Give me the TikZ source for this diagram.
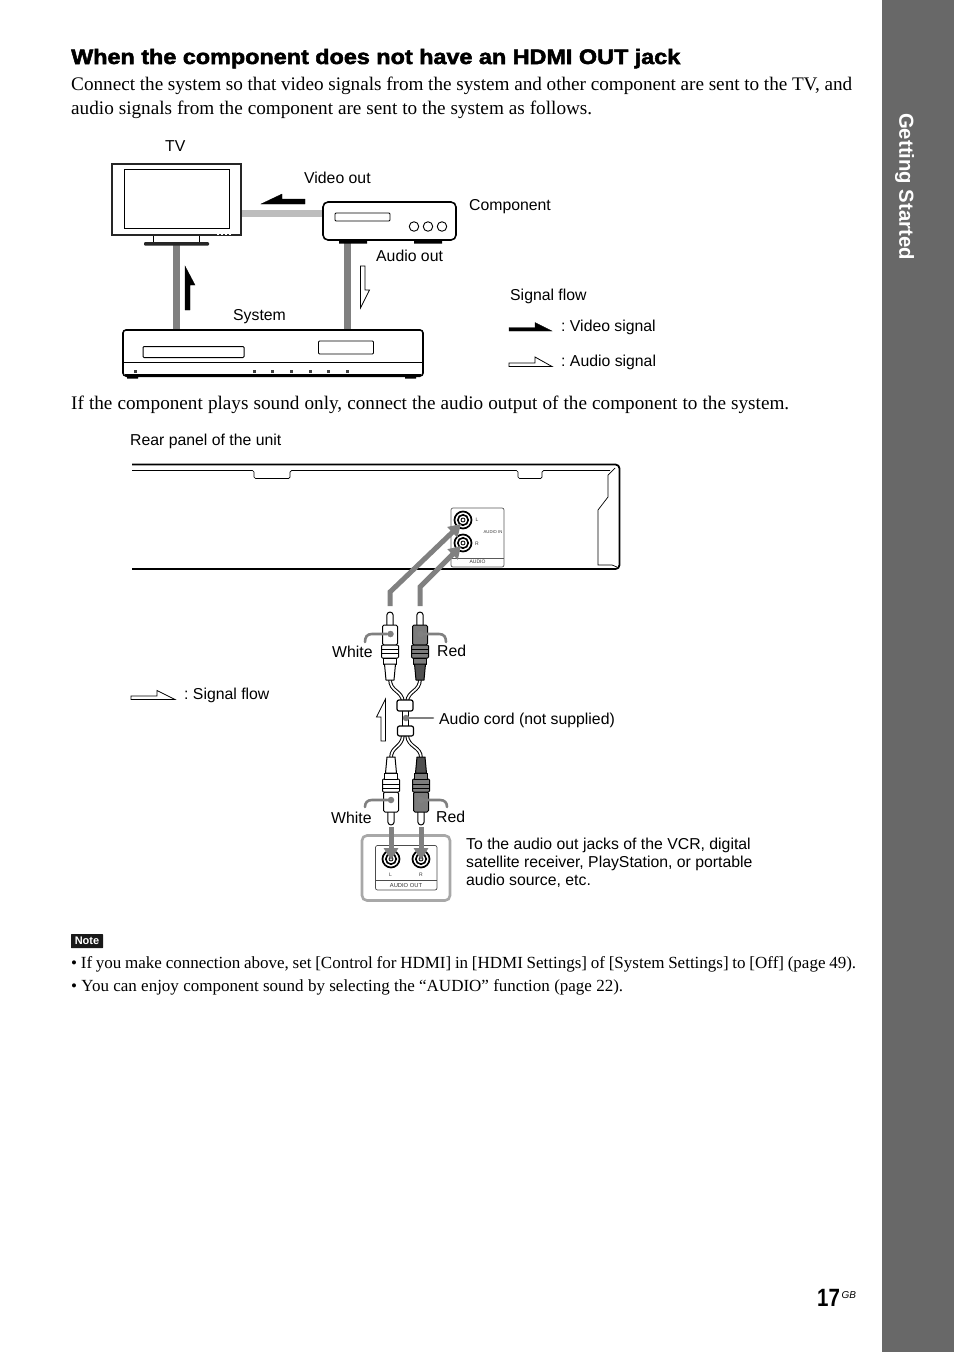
\documentclass[tikz,border=0pt]{standalone}
\usepackage{fontspec}
\usetikzlibrary{arrows.meta}
\setmainfont{Liberation Serif}
\setsansfont{Liberation Sans}
\frenchspacing
\definecolor{sidebar}{HTML}{686868}
\definecolor{cablegray}{HTML}{808080}
\definecolor{videogray}{HTML}{BDBDBD}
\definecolor{boxgray}{HTML}{A8A8A8}
\definecolor{redplug}{HTML}{7C7C7C}
\definecolor{redcore}{HTML}{505050}
\tikzset{
  sanslbl/.style={font=\fontsize{15.8}{18}\selectfont\sffamily,anchor=base west,inner sep=0pt,text=black},
  bodylbl/.style={font=\fontsize{19.2}{24}\selectfont,anchor=base west,inner sep=0pt,text=black},
  notelbl/.style={font=\fontsize{17}{24}\selectfont,anchor=base west,inner sep=0pt,text=black},
  tinylbl/.style={font=\fontsize{5}{5}\selectfont\sffamily,inner sep=0pt,text=black!80},
  device/.style={draw=black,line width=1.6pt,fill=white,inner sep=0pt,rounded corners=3pt},
  thinbox/.style={draw=black,line width=0.8pt,fill=white,inner sep=0pt,rounded corners=1pt},
  cablewire/.style={cablegray,line width=7pt},
  signalarrow/.style={cablegray,line width=5pt,-{Triangle[length=12pt,width=14pt]}},
  leader/.style={cablegray,line width=2.6pt,line cap=round},
  leaderdot/.style={circle,fill=cablegray,inner sep=0pt,minimum size=6.5pt},
  cordwire/.style={draw=black,double=white,line width=1pt,double distance=1.7pt},
  flowfilled/.style={fill=black,draw=black,line width=0.3pt},
  flowhollow/.style={fill=white,draw=black,line width=0.8pt,line join=miter},
  plugline/.style={draw=black,line width=1pt,line join=round},
}
\newcommand{\rcaplug}[5]{%
  \begin{scope}[shift={(#1,#2)},yscale=#3]
    \draw[plugline,fill=white] (-3.2,14) -- (-3.2,3.2) arc[start angle=180,end angle=360,radius=3.2] -- (3.2,14);
    \draw[plugline,fill=#4,rounded corners=1.5pt] (-7.5,13) rectangle (7.5,33);
    \draw[plugline,fill=#4,rounded corners=1pt] (-8.5,33) rectangle (8.5,46);
    \draw[plugline] (-8.5,37) -- (8.5,37) (-8.5,41) -- (8.5,41);
    \draw[plugline,fill=#4] (-6.5,46) rectangle (6.5,52);
    \draw[plugline,fill=#5] (-5.5,52) -- (-4,68) -- (4,68) -- (5.5,52) -- cycle;
  \end{scope}}
\newcommand{\jackring}[2]{%
  \draw[line width=1.7pt,fill=white] (#1,#2) circle[radius=8.5];
  \draw[line width=1.6pt] (#1,#2) circle[radius=5.2];
  \draw[line width=0.8pt] (#1,#2) circle[radius=2];}
\begin{document}
\begin{tikzpicture}[x=1pt,y=-1pt]
\useasboundingbox (0,0) rectangle (954,1352);
\fill[white] (0,0) rectangle (954,1352);
\fill[sidebar] (882,0) rectangle (954,1352);
\node[rotate=-90,text=white,inner sep=0pt,font=\fontsize{20.3}{20}\selectfont\sffamily\bfseries] (sidetitle) at (904.5,186.5) {Getting Started};
\node[anchor=base west,inner sep=0pt,font=\fontsize{25}{25}\selectfont\sffamily\bfseries] (pagenum) at (817,1306) {\addfontfeature{FakeStretch=0.82}17};
\node[anchor=base west,inner sep=0pt,font=\fontsize{10}{10}\selectfont\sffamily\itshape] (pagegb) at (841.5,1298) {GB};

\node[anchor=base west,inner sep=0pt,font=\fontsize{21}{24}\selectfont\sffamily\bfseries] (heading) at (71,64) {\addfontfeature{FakeBold=2.5,FakeStretch=1.113}When the component does not have an HDMI OUT jack};
\node[bodylbl] (intro1) at (71,90) {\makebox[781pt][s]{Connect the system so that video signals from the system and other component are sent to the TV, and}};
\node[bodylbl] (intro2) at (71,114) {\makebox[521pt][s]{audio signals from the component are sent to the system as follows.}};
\node[bodylbl] (intro3) at (71,409) {\makebox[718pt][s]{If the component plays sound only, connect the audio output of the component to the system.}};

% ---- upper diagram
\coordinate (tvright) at (241,213);
\coordinate (compleft) at (323,213);
\coordinate (tvfoot) at (176,245);
\coordinate (compfoot) at (347,243);
\coordinate (systv) at (176,330);
\coordinate (syscomp) at (347,330);
\draw[videogray,line width=7pt] (tvright) -- (compleft);
\draw[cablewire] (tvfoot) -- (systv);
\draw[cablewire] (compfoot) -- (syscomp);

% TV
\draw[line width=0.9pt,fill=white] (153,235) rectangle (199,243);
\fill[black!85,rounded corners=1pt] (144,242) rectangle (209,245.5);
\node[draw=black!85,line width=2.4pt,fill=white,inner sep=0pt,minimum width=129pt,minimum height=71pt] (tv) at (176.5,199.5) {};
\node[draw=black,line width=0.8pt,inner sep=0pt,minimum width=105pt,minimum height=59pt] (tvscreen) at (176.5,198.5) {};
\draw[white,line width=0.6pt,dash pattern=on 2pt off 2pt] (217,234.5) -- (231,234.5);
% component
\fill[black] (339,239) rectangle (367,243.5) (414,239) rectangle (442,243.5);
\node[device,minimum width=133pt,minimum height=38pt,rounded corners=5pt] (comp) at (389.5,221) {};
\node[thinbox,minimum width=55pt,minimum height=8pt] (compslot) at (362.5,217) {};
\node[circle,draw,line width=0.9pt,minimum size=9.5pt,inner sep=0pt] (compa) at (414,226.5) {};
\node[circle,draw,line width=0.9pt,minimum size=9.5pt,inner sep=0pt] (compb) at (428,226.5) {};
\node[circle,draw,line width=0.9pt,minimum size=9.5pt,inner sep=0pt] (compc) at (442,226.5) {};
% system
\fill[black] (126,375) rectangle (420,377) (127,377) rectangle (138,378.5) (405,377) rectangle (416,378.5);
\node[device,minimum width=300pt,minimum height=46pt] (sys) at (273,353) {};
\draw[line width=0.7pt] (sys.west |- 0,362) -- (sys.east |- 0,362);
\draw[line width=2pt] (125,375) -- (421,375);
\node[thinbox,line width=1pt,minimum width=101pt,minimum height=11pt] (sysslot) at (193.5,352) {};
\node[thinbox,minimum width=55pt,minimum height=13pt] (sysdisp) at (346,347.5) {};
\foreach \px in {135,254,272,291,310,328,347} {\fill[black!75] (\px-1.5,369.5) rectangle (\px+1.5,373);}

% flow arrows
\draw[flowfilled] (185,266) -- (195,285) -- (190,285) -- (190,310) -- (185,310) -- cycle;
\draw[flowfilled] (261,204) -- (282,194) -- (282,199) -- (305,199) -- (305,204) -- cycle;
\draw[flowhollow] (360.5,266) -- (365,266) -- (365,290) -- (369.5,290) -- (360.5,308) -- cycle;
\draw[flowfilled] (509,331) -- (509,327.5) -- (535,327.5) -- (535,322.5) -- (552,331) -- cycle;
\draw[flowhollow] (509,366.5) -- (509,363) -- (535,363) -- (535,357) -- (552,366.5) -- cycle;
\draw[flowhollow] (131,699.5) -- (131,696) -- (157,696) -- (157,690.5) -- (175,699.5) -- cycle;
\draw[flowhollow] (385.5,699) -- (385.5,741) -- (381,741) -- (381,717) -- (376.5,717) -- cycle;

\node[sanslbl] (ltv) at (165,151) {TV};
\node[sanslbl] (lvideo) at (304,183) {Video out};
\node[sanslbl] (lcomp) at (469,210) {Component};
\node[sanslbl] (laudio) at (376,261) {Audio out};
\node[sanslbl] (lsignal) at (510,300) {Signal flow};
\node[sanslbl] (lvsig) at (561,331) {: Video signal};
\node[sanslbl] (lasig) at (561,366) {: Audio signal};
\node[sanslbl] (lsys) at (233,320) {System};
\node[sanslbl] (lrear) at (130,445) {Rear panel of the unit};
\node[sanslbl] (lflow) at (184,699) {: Signal flow};

% ---- rear panel
\draw[line width=1.8pt,rounded corners=4pt] (132,464.5) -- (619.5,464.5) -- (619.5,569) -- (132,569);
\draw[line width=0.7pt,rounded corners=1.5pt] (132,470.5) -- (254,470.5) -- (254,478.5) -- (290,478.5) -- (290,470.5) -- (518,470.5) -- (518,478.5) -- (542,478.5) -- (542,470.5) -- (610,470.5);
\draw[line width=0.7pt] (615,468) -- (608,475) -- (608,497) -- (598,510) -- (598,565) -- (612,565) -- (617,567);
\node[draw=black!65,line width=0.7pt,fill=white,rounded corners=2pt,inner sep=0pt,minimum width=53pt,minimum height=59pt] (inpanel) at (477.5,537.5) {};
\draw[black!65,line width=0.6pt] (inpanel.west |- 0,558) -- (inpanel.east |- 0,558);
\jackring{463}{520}
\jackring{463}{543}
\node[tinylbl] (tl) at (477,520) {L};
\node[tinylbl] (tr) at (477,544) {R};
\node[tinylbl,font=\fontsize{4.2}{5}\selectfont\sffamily] (tain) at (493,532.5) {AUDIO IN};
\node[tinylbl] (taud) at (477.5,562) {AUDIO};

% ---- signal arrows into the panel
\coordinate (plugwa) at (390,606);
\coordinate (plugra) at (420,606);
\coordinate (jackl) at (461,524);
\coordinate (jackr) at (461,546);
\draw[signalarrow] (plugwa) -- (390,592) -- (jackl);
\draw[signalarrow] (plugra) -- (420,587) -- (jackr);

% ---- cord
\coordinate (jtop) at (405,702);
\coordinate (jbot) at (405,735);
\coordinate (ptl) at (390,679);
\coordinate (ptr) at (420,679);
\coordinate (pbl) at (391,758);
\coordinate (pbr) at (421,758);
\draw[cordwire] (ptl) .. controls (390,692) and (402,690) .. (403,702);
\draw[cordwire] (ptr) .. controls (420,692) and (408,690) .. (407,702);
\draw[cordwire] (pbl) .. controls (391,746) and (402,748) .. (403,735);
\draw[cordwire] (pbr) .. controls (421,746) and (408,748) .. (407,735);
\rcaplug{390}{612}{1}{white}{white}
\rcaplug{420}{612}{1}{redplug}{redcore}
\rcaplug{391}{825}{-1}{white}{white}
\rcaplug{421}{825}{-1}{redplug}{redcore}
\draw[plugline,fill=white] (402.5,710) rectangle (408.5,727);
\node[draw=black,line width=1.2pt,fill=white,rounded corners=2pt,inner sep=0pt,minimum width=16pt,minimum height=11pt] (neckt) at (405,705.5) {};
\node[draw=black,line width=1.2pt,fill=white,rounded corners=2pt,inner sep=0pt,minimum width=16pt,minimum height=10pt] (neckb) at (405.5,731) {};

% leaders
\node[leaderdot] (d1) at (390.5,634) {};
\node[leaderdot] (d2) at (420.5,634) {};
\node[leaderdot] (d3) at (391,800) {};
\node[leaderdot] (d4) at (421,800) {};
\node[leaderdot] (d5) at (406,718) {};
\draw[leader] (d1) -- (372,634) .. controls (367,634) and (365,637) .. (365,642);
\draw[leader] (d2) -- (439,634) .. controls (444,634) and (446,637) .. (446,642);
\draw[leader] (d3) -- (372,800) .. controls (367,800) and (365,803) .. (365,807);
\draw[leader] (d4) -- (440,800) .. controls (445,800) and (447,803) .. (447,807);
\node[sanslbl] (lcord) at (439,724) {Audio cord (not supplied)};
\draw[leader] (d5) -- (433,718);
\node[sanslbl] (lw1) at (332,657) {White};
\node[sanslbl] (lr1) at (437,656) {Red};
\node[sanslbl] (lw2) at (331,823) {White};
\node[sanslbl] (lr2) at (436,822) {Red};

% ---- output box
\node[draw=boxgray,line width=2.6pt,fill=white,rounded corners=5pt,inner sep=0pt,minimum width=88pt,minimum height=65pt] (outbox) at (406,868) {};
\draw[black!70,line width=0.7pt,rounded corners=2pt] (375.5,845.5) rectangle (437,890);
\draw[black!70,line width=0.6pt] (375.5,880.5) -- (437,880.5);
\jackring{391}{859}
\jackring{421}{859}
\node[tinylbl] (ol) at (390.5,875) {L};
\node[tinylbl] (or) at (421,875) {R};
\node[tinylbl,font=\fontsize{5.8}{6}\selectfont\sffamily] (oaud) at (406,885.5) {AUDIO OUT};
\coordinate (plugwb) at (391,827);
\coordinate (plugrb) at (421,827);
\coordinate (jackbl) at (391,860);
\coordinate (jackbr) at (421,860);
\draw[signalarrow] (plugwb) -- (jackbl);
\draw[signalarrow] (plugrb) -- (jackbr);
\node[sanslbl,anchor=north west,align=left] (ldest) at (466,837.5) {To the audio out jacks of the VCR, digital\\satellite receiver, PlayStation, or portable\\audio source, etc.};

% ---- note
\node[fill=black!90,text=white,rounded corners=0.5pt,inner sep=0pt,minimum width=32pt,minimum height=14pt,font=\fontsize{11}{11}\selectfont\sffamily\bfseries] (notetag) at (87,941) {Note};
\node[notelbl] (n1) at (71,968) {\makebox[785pt][s]{• If you make connection above, set [Control for HDMI] in [HDMI Settings] of [System Settings] to [Off] (page 49).}};
\node[notelbl] (n2) at (71,991) {\makebox[552pt][s]{• You can enjoy component sound by selecting the “AUDIO” function (page 22).}};
\end{tikzpicture}
\end{document}
